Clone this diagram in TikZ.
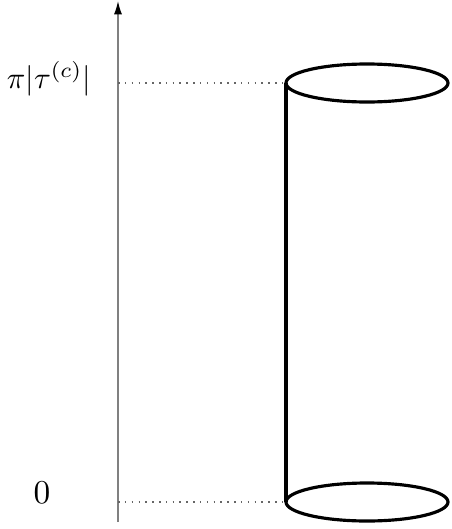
\documentclass[tikz,border=0pt]{standalone}
\usetikzlibrary{arrows.meta}
\begin{document}
\begin{tikzpicture}[x=0.3pt,y=-0.3pt,
  axis/.style={draw=black!50,line width=0.4pt,-{Latex[length=4pt,width=2.4pt,color=black]}},
  guide/.style={draw=black!60,line width=0.45pt,dash pattern=on 0.45pt off 1.6pt},
  cyl/.style={draw=black,line width=0.95pt},
  lab/.style={inner sep=0pt}]
\useasboundingbox (0,0) rectangle (451,529);
\coordinate (ab) at (118,522);
\coordinate (at) at (118,1);
\coordinate (a1) at (118,83);
\coordinate (a0) at (118,502);
\coordinate (c1) at (286,83);
\coordinate (c0) at (286,502);
\draw[axis] (ab) -- (at);
\draw[guide] (a1) -- (c1);
\draw[guide] (a0) -- (c0);
\draw[cyl] (367,83) ellipse [x radius=81, y radius=19];
\draw[cyl] (367,502) ellipse [x radius=81, y radius=19];
\draw[cyl] (c1) -- (c0);
\node[lab,scale=0.92] (l1) at (49,79) {$\pi|\tau^{(c)}|$};
\node[lab] (l0) at (42,493) {$0$};
\end{tikzpicture}
\end{document}
